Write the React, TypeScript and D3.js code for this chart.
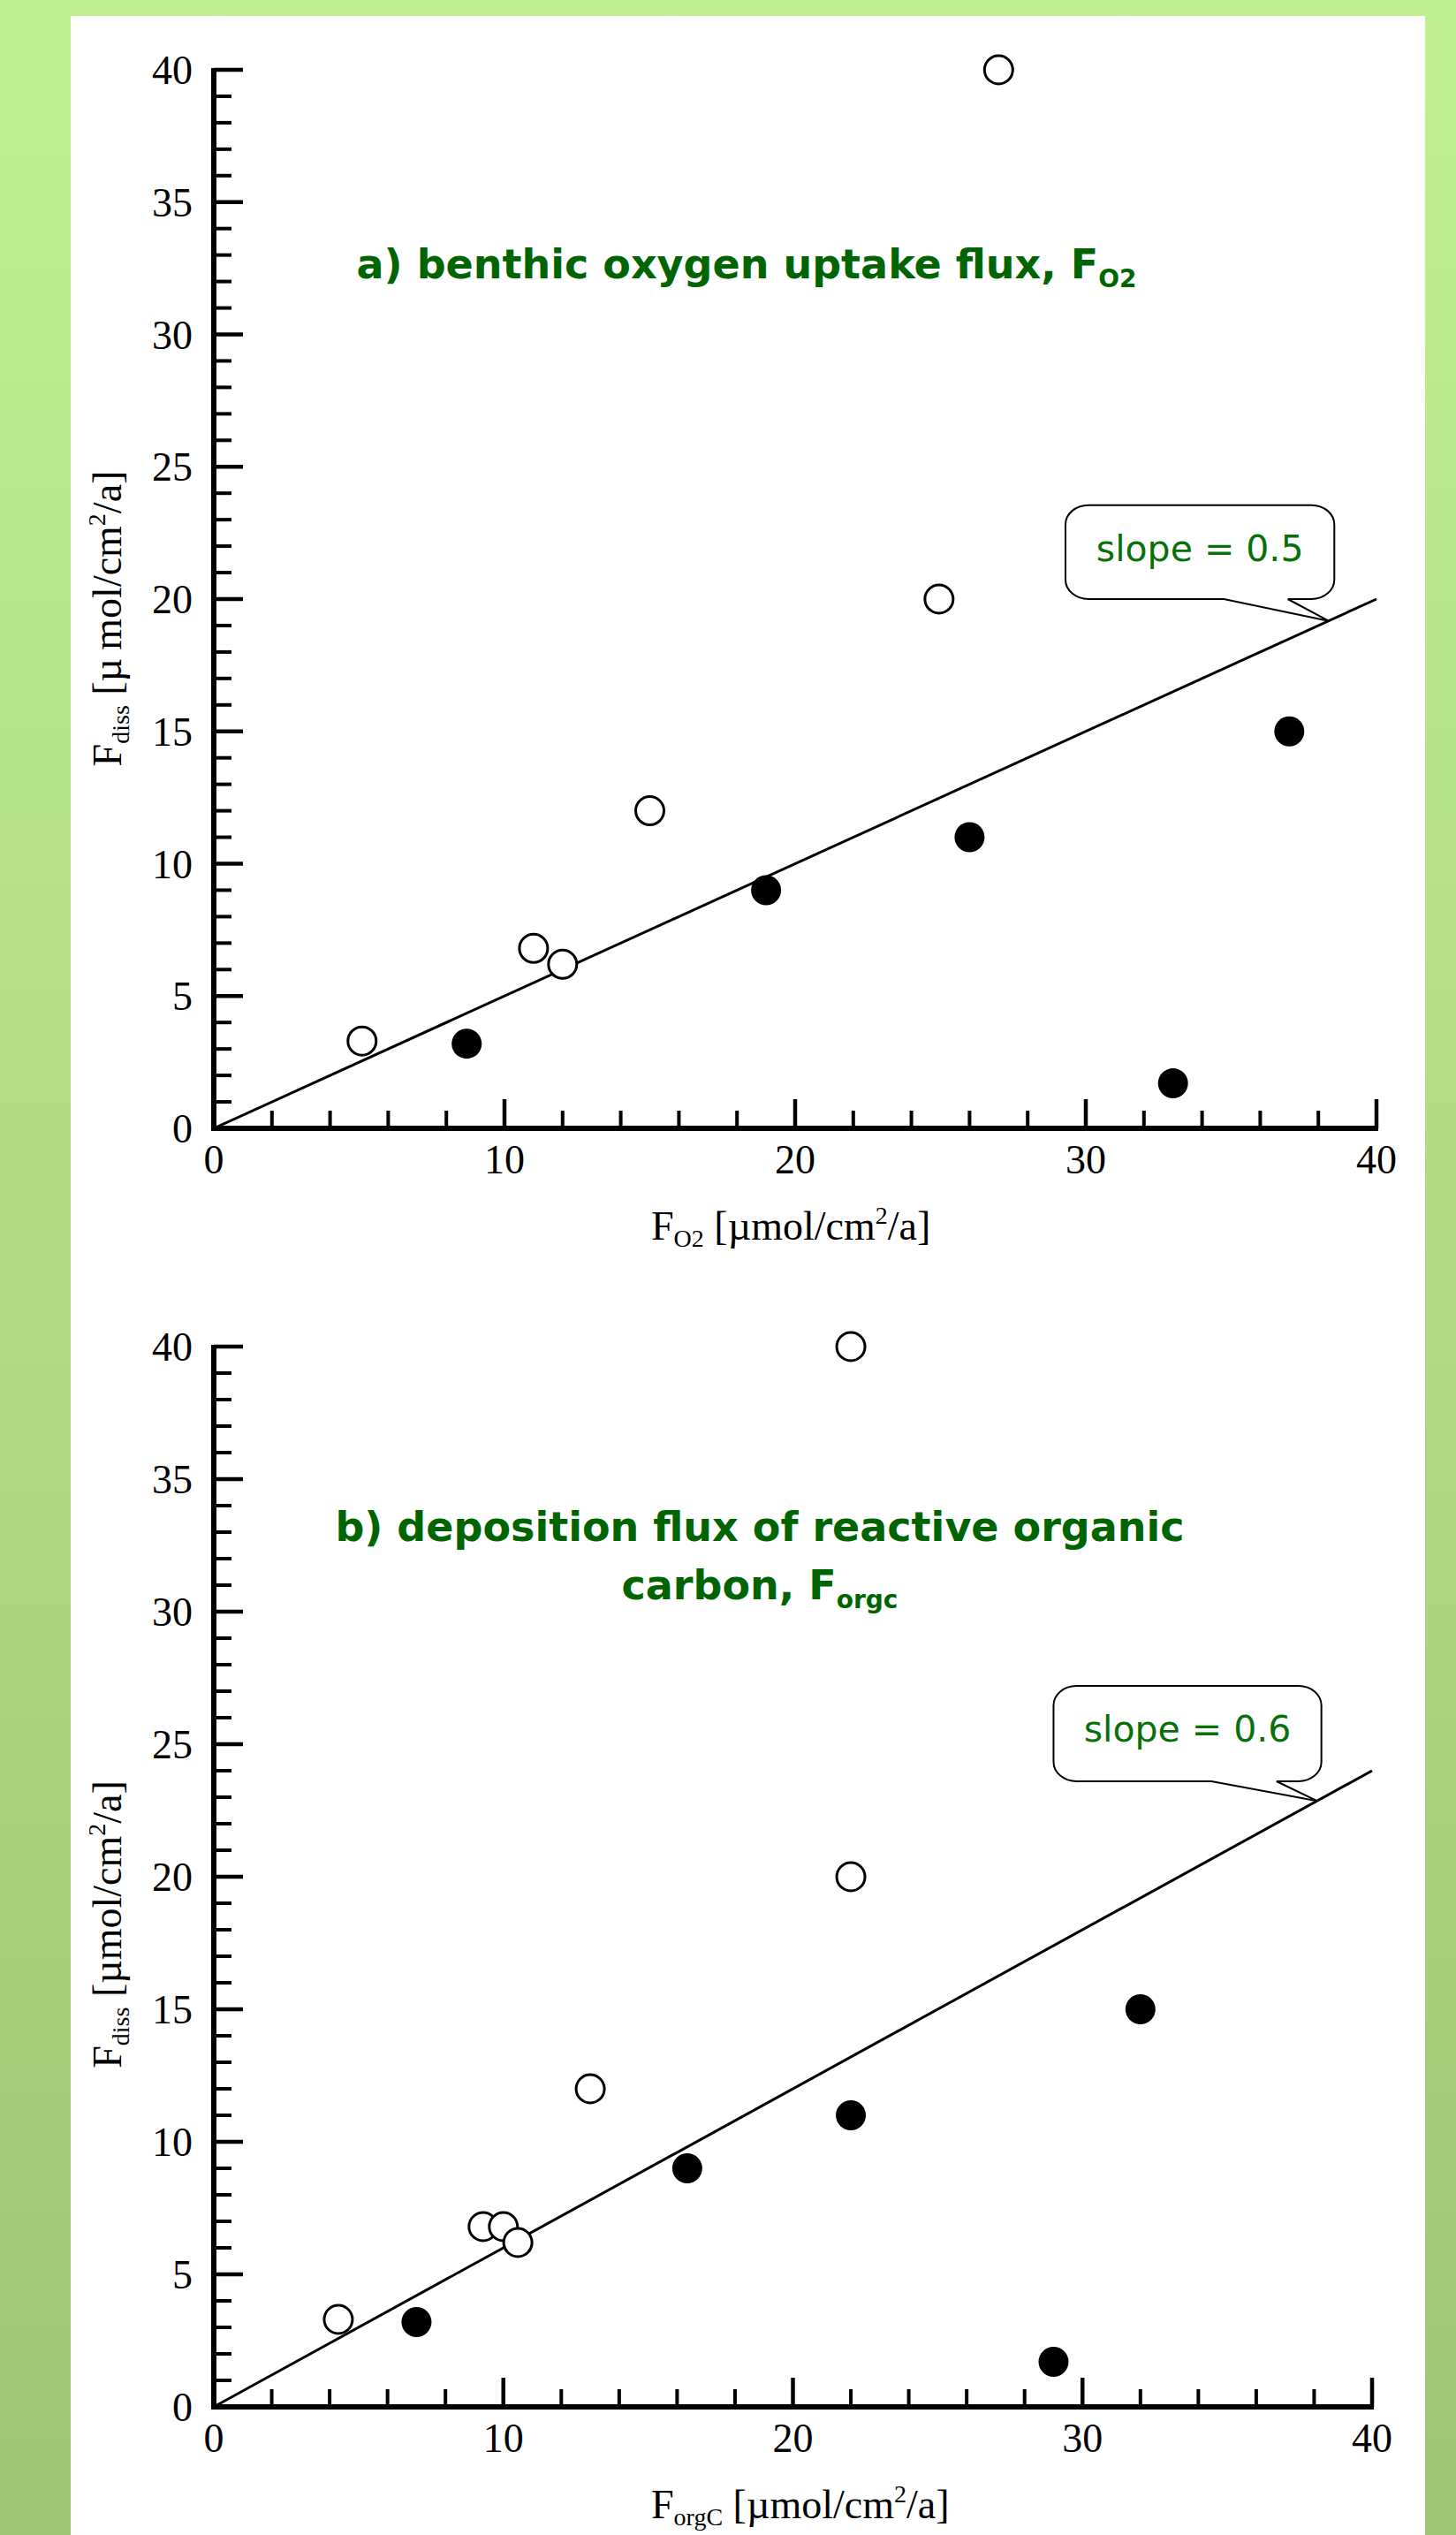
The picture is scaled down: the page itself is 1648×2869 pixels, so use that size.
import React from 'react';
import * as d3 from 'd3';

const W = 1648;
const H = 2869;

// panel a: benthic oxygen uptake flux
const o2OpenX = [5.1, 11.0, 12.0, 15.0, 24.95, 27.0];
const o2OpenY = [3.3, 6.8, 6.2, 12.0, 20.0, 40.0];
const o2FilledX = [8.7, 19.0, 26.0, 33.0, 37.0];
const o2FilledY = [3.2, 9.0, 11.0, 1.7, 15.0];

// panel b: deposition flux of reactive organic carbon
const orgOpenX = [4.3, 9.3, 10.0, 10.5, 13.0, 22.0, 22.0];
const orgOpenY = [3.3, 6.8, 6.8, 6.2, 12.0, 20.0, 40.0];
const orgFilledX = [7.0, 16.35, 22.0, 29.0, 32.0];
const orgFilledY = [3.2, 9.0, 11.0, 1.7, 15.0];

const slopes = [0.5, 0.6];
const slopeLabels = ['slope = 0.5', 'slope = 0.6'];

const xMajorTicks = [0, 10, 20, 30, 40];
const yMajorTicks = [0, 5, 10, 15, 20, 25, 30, 35, 40];
const xMinorTicks = d3.range(2, 40, 2).filter(v => v % 10 !== 0);
const yMinorTicks = d3.range(1, 40, 1).filter(v => v % 5 !== 0);

const GREEN = '#006400';
const SERIF = "'Liberation Serif', 'Times New Roman', serif";
const COMIC = "'Comic Sans MS', 'DejaVu Sans', sans-serif";

interface Callout {
  left: number; right: number; top: number; bottom: number;
  tail1: number; tail2: number; tipX: number;
}

interface PanelProps {
  xRange: [number, number];
  yRange: [number, number];
  openX: number[]; openY: number[];
  filledX: number[]; filledY: number[];
  slope: number;
  slopeLabel: string;
  callout: Callout;
  titleLines: React.ReactNode[];
  titleX: number;
  titleY: number[];
  xTitleSub: string;
  yTitleCenter: number;
  muGap: string;
}

const toPts = (xs: number[], ys: number[]) => xs.map((x, i) => ({ x, y: ys[i] }));

const Panel: React.FC<PanelProps> = (p) => {
  const x = d3.scaleLinear().domain([0, 40]).range(p.xRange);
  const y = d3.scaleLinear().domain([0, 40]).range(p.yRange);
  const x0 = x(0);
  const y0 = y(0);

  const c = p.callout;
  const l = x(c.left), r = x(c.right), t = y(c.top), b = y(c.bottom);
  const t1 = x(c.tail1), t2 = x(c.tail2);
  const tx = x(c.tipX), ty = y(c.tipX * p.slope);
  const rx = 26, ry = 22;
  const bubble = `M${l + rx},${t} H${r - rx} A${rx},${ry} 0 0 1 ${r},${t + ry} V${b - ry} A${rx},${ry} 0 0 1 ${r - rx},${b} H${t2} L${tx},${ty} L${t1},${b} H${l + rx} A${rx},${ry} 0 0 1 ${l},${b - ry} V${t + ry} A${rx},${ry} 0 0 1 ${l + rx},${t} Z`;

  const fit = d3.line<number>().x(v => x(v)).y(v => y(v * p.slope));

  return (
    <g>
      {/* title */}
      <text x={p.titleX} fill={GREEN} fontFamily={COMIC} fontWeight="bold" fontSize={46} textAnchor="middle">
        {p.titleLines.map((ln, i) => (
          <tspan key={i} x={p.titleX} y={p.titleY[i]}>{ln}</tspan>
        ))}
      </text>

      {/* fit line */}
      <path d={fit([0, 40]) || ''} stroke="#000" strokeWidth={3} fill="none" />

      {/* callout */}
      <path d={bubble} fill="#fff" stroke="#000" strokeWidth={2} />
      <text x={(l + r) / 2} y={t + 63} fill="#087008" fontFamily={COMIC} fontSize={41} textAnchor="middle">
        {p.slopeLabel}
      </text>

      {/* markers */}
      {toPts(p.openX, p.openY).map((d, i) => (
        <circle key={`o-${i}`} cx={x(d.x)} cy={y(d.y)} r={16} fill="#fff" stroke="#000" strokeWidth={3} />
      ))}
      {toPts(p.filledX, p.filledY).map((d, i) => (
        <circle key={`f-${i}`} cx={x(d.x)} cy={y(d.y)} r={17} fill="#000" />
      ))}

      {/* axes */}
      <line x1={x0} y1={y0 + 3} x2={x0} y2={y(40) - 2} stroke="#000" strokeWidth={6} />
      <line x1={x0 - 3} y1={y0} x2={x(40) + 2} y2={y0} stroke="#000" strokeWidth={6} />
      {yMajorTicks.map(v => (
        <line key={`ym-${v}`} x1={x0} y1={y(v)} x2={x0 + 33} y2={y(v)} stroke="#000" strokeWidth={4.5} />
      ))}
      {yMinorTicks.map(v => (
        <line key={`yn-${v}`} x1={x0} y1={y(v)} x2={x0 + 20} y2={y(v)} stroke="#000" strokeWidth={4} />
      ))}
      {xMajorTicks.map(v => (
        <line key={`xm-${v}`} x1={x(v)} y1={y0} x2={x(v)} y2={y0 - 33} stroke="#000" strokeWidth={4.5} />
      ))}
      {xMinorTicks.map(v => (
        <line key={`xn-${v}`} x1={x(v)} y1={y0} x2={x(v)} y2={y0 - 20} stroke="#000" strokeWidth={4} />
      ))}

      {/* tick labels */}
      <g fontFamily={SERIF} fontSize={46} fill="#000">
        {yMajorTicks.map(v => (
          <text key={`yl-${v}`} x={x0 - 24} y={y(v)} dy="0.35em" textAnchor="end">{v}</text>
        ))}
        {xMajorTicks.map(v => (
          <text key={`xl-${v}`} x={x(v)} y={y0 + 51} textAnchor="middle">{v}</text>
        ))}
      </g>

      {/* axis titles */}
      <text x={737} y={y0 + 126} fontFamily={SERIF} fontSize={46} fill="#000">
        F<tspan fontSize={28} dy={8}>{p.xTitleSub}</tspan>
        <tspan dy={-8}> [µmol/cm</tspan>
        <tspan fontSize={28} dy={-18}>2</tspan>
        <tspan dy={18}>/a]</tspan>
      </text>
      <text transform={`translate(137,${p.yTitleCenter}) rotate(-90)`} textAnchor="middle" fontFamily={SERIF} fontSize={46} fill="#000">
        F<tspan fontSize={28} dy={9}>diss</tspan>
        <tspan dy={-9}> [µ{p.muGap}mol/cm</tspan>
        <tspan fontSize={28} dy={-18}>2</tspan>
        <tspan dy={18}>/a]</tspan>
      </text>
    </g>
  );
};

const App: React.FC = () => {
  return (
    <div style={{ position: 'absolute', left: 0, top: 0 }}>
      <svg width={W} height={H} viewBox={`0 0 ${W} ${H}`} style={{ display: 'block' }}>
        <defs>
          <linearGradient id="bg" x1="0" y1="0" x2="0" y2="1">
            <stop offset="0%" stopColor="#c2f091" />
            <stop offset="100%" stopColor="#9ec575" />
          </linearGradient>
        </defs>
        <rect x={0} y={0} width={W} height={H} fill="url(#bg)" />
        <rect x={80} y={18} width={1533} height={H - 18} fill="#fff" />

        <Panel
          xRange={[242, 1558]}
          yRange={[1277, 79]}
          openX={o2OpenX} openY={o2OpenY}
          filledX={o2FilledX} filledY={o2FilledY}
          slope={slopes[0]}
          slopeLabel={slopeLabels[0]}
          callout={{ left: 29.3, right: 38.55, top: 23.55, bottom: 20.0, tail1: 34.75, tail2: 36.95, tipX: 38.35 }}
          titleLines={[
            <>a) benthic oxygen uptake flux, F<tspan fontSize={28} dy={10}>O2</tspan></>,
          ]}
          titleX={845}
          titleY={[315]}
          xTitleSub="O2"
          yTitleCenter={700}
          muGap={'\u2009'}
        />

        <Panel
          xRange={[242, 1553]}
          yRange={[2724, 1524]}
          openX={orgOpenX} openY={orgOpenY}
          filledX={orgFilledX} filledY={orgFilledY}
          slope={slopes[1]}
          slopeLabel={slopeLabels[1]}
          callout={{ left: 29.0, right: 38.25, top: 27.2, bottom: 23.6, tail1: 34.45, tail2: 36.7, tipX: 38.1 }}
          titleLines={[
            <>b) deposition flux of reactive organic</>,
            <>carbon, F<tspan fontSize={28} dy={10}>orgc</tspan></>,
          ]}
          titleX={860}
          titleY={[1744, 1810]}
          xTitleSub="orgC"
          yTitleCenter={2178}
          muGap=""
        />
      </svg>
    </div>
  );
};

export default App;
